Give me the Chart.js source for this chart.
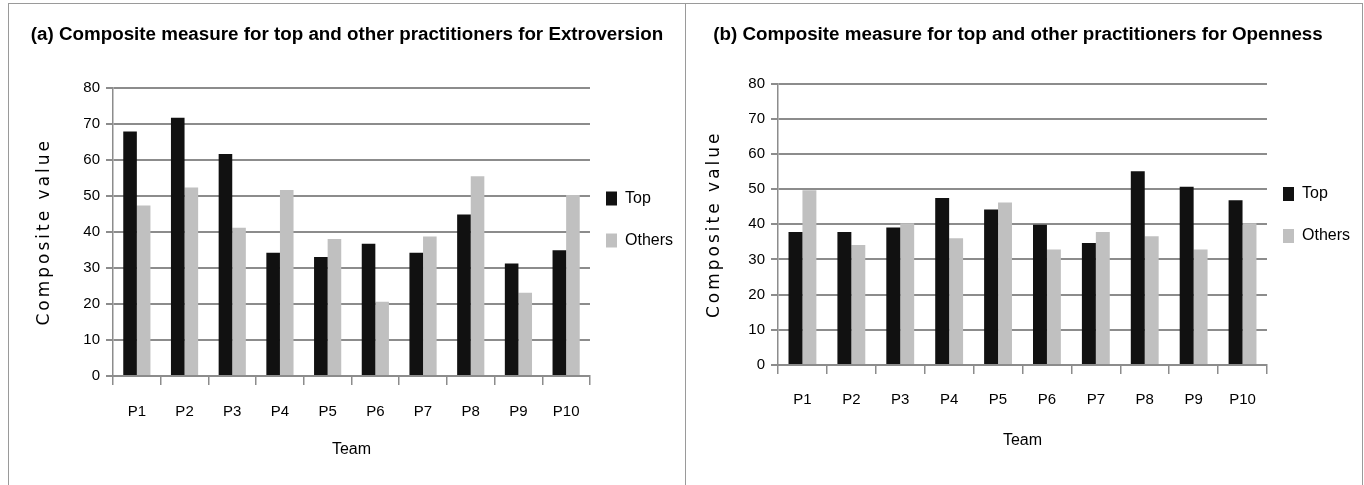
<!DOCTYPE html>
<html>
<head>
<meta charset="utf-8">
<script src="https://cdn.jsdelivr.net/npm/chart.js@4.4.1/dist/chart.umd.min.js"></script>
<style>
    body { margin: 0; background: #fff; width: 1364px; height: 485px; overflow: hidden; position: relative; }
    .pannello { position: absolute; top: 3px; height: 482px; border: 1px solid #9a9a9a; border-bottom: none; box-sizing: border-box; }
    #pannelloA { left: 8px; width: 678px; }
    #pannelloB { left: 685px; width: 678px; }
    canvas { position: absolute; left: 0; top: 0; }
</style>
</head>
<body>
<div class="pannello" id="pannelloA"><canvas id="graficoA" width="676" height="481"></canvas></div>
<div class="pannello" id="pannelloB"><canvas id="graficoB" width="676" height="481"></canvas></div>
<script>
var teams = ["P1", "P2", "P3", "P4", "P5", "P6", "P7", "P8", "P9", "P10"];
var seriesNames = ["Top", "Others"];
var yTicks = [0, 10, 20, 30, 40, 50, 60, 70, 80];

// (a) Extroversion
var extroTop = [67.8, 71.6, 61.6, 34.2, 33.0, 36.7, 34.2, 44.8, 31.2, 34.9];
var extroOthers = [47.3, 52.3, 41.1, 51.6, 38.0, 20.6, 38.7, 55.4, 23.1, 50.2];

// (b) Openness
var openTop = [37.8, 37.8, 39.1, 47.5, 44.2, 39.9, 34.7, 55.1, 50.7, 46.8];
var openOthers = [49.7, 34.1, 40.3, 36.0, 46.2, 32.8, 37.8, 36.6, 32.8, 40.3];

var titleA = "(a) Composite measure for top and other practitioners for Extroversion";
var titleB = "(b) Composite measure for top and other practitioners for Openness";

var fontBase = "'Liberation Sans', Arial, sans-serif";

// sposta la legenda dopo il layout (il padding della legenda vale sia in orizzontale che in verticale)
var spostaLegenda = {
    id: "spostaLegenda",
    afterLayout: function (chart, args, opts) {
        var leg = chart.legend;
        leg.left += opts.dx;
        leg.right += opts.dx;
        leg.top += opts.dy;
        leg.bottom += opts.dy;
    }
};

// titolo dell'asse y con le lettere spaziate come nell'originale
var spaziaTitoloY = {
    id: "spaziaTitoloY",
    afterLayout: function (chart, args, opts) {
        var scala = chart.scales.y;
        if (scala._spaziato) return;
        var drawTitleOrig = scala.drawTitle;
        scala.drawTitle = function () {
            chart.ctx.save();
            chart.ctx.letterSpacing = opts.spacing;
            drawTitleOrig.apply(this, arguments);
            chart.ctx.restore();
        };
        scala._spaziato = true;
    }
};

function creaGrafico(idCanvas, titolo, valoriTop, valoriOthers, pad) {
    var ctx = document.getElementById(idCanvas);
    return new Chart(ctx, {
        type: "bar",
        data: {
            labels: teams,
            datasets: [
                { label: seriesNames[0], data: valoriTop, backgroundColor: "#111111", borderWidth: 0 },
                { label: seriesNames[1], data: valoriOthers, backgroundColor: "#c0c0c0", borderWidth: 0 }
            ]
        },
        plugins: [spostaLegenda, spaziaTitoloY],
        options: {
            responsive: false,
            animation: false,
            layout: { padding: { left: pad.left, right: -8, top: 0, bottom: pad.bottom } },
            categoryPercentage: 0.57,
            barPercentage: 1,
            plugins: {
                tooltip: { enabled: false },
                spostaLegenda: { dx: -10, dy: pad.legendDy },
                spaziaTitoloY: { spacing: "3px" },
                title: {
                    display: true,
                    text: titolo,
                    color: "#000",
                    font: { family: fontBase, size: 18.8, weight: "bold" },
                    padding: { top: 20, bottom: pad.titleBottom }
                },
                legend: {
                    position: "right",
                    labels: {
                        color: "#000",
                        font: { family: fontBase, size: 16 },
                        boxWidth: 11,
                        boxHeight: 14,
                        padding: 26
                    }
                }
            },
            scales: {
                x: {
                    grid: { drawOnChartArea: false, drawTicks: true, tickLength: 9, color: "#8c8c8c", lineWidth: 1.5 },
                    border: { color: "#8c8c8c", width: 2 },
                    ticks: { color: "#000", font: { family: fontBase, size: 15 }, padding: pad.xTickPad, maxRotation: 0 },
                    title: { display: true, text: "Team", color: "#000", font: { family: fontBase, size: 16 }, padding: { top: 10, bottom: 0 } },
                    afterFit: function (scale) { scale.height = pad.xHeight; }
                },
                y: {
                    min: 0,
                    max: 80,
                    afterBuildTicks: function (scale) {
                        scale.ticks = yTicks.map(function (v) { return { value: v }; });
                    },
                    grid: { color: "#8c8c8c", lineWidth: 2, tickLength: 7 },
                    border: { color: "#8c8c8c", width: 1.5 },
                    ticks: { color: "#000", font: { family: fontBase, size: 15 }, padding: 6 },
                    title: { display: true, text: "Composite value", color: "#000", font: { family: "'DejaVu Sans', Verdana, sans-serif", size: 17 }, padding: { top: pad.yTitleTop, bottom: 0 } },
                    afterFit: function (scale) { scale.width = pad.yWidth; }
                }
            }
        }
    });
}

creaGrafico("graficoA", titleA, extroTop, extroOthers, {
    left: -8,
    bottom: 26,
    titleBottom: 41,
    xHeight: 83,
    xTickPad: 18,
    yWidth: 112,
    yTitleTop: 33,
    legendDy: -12
});

creaGrafico("graficoB", titleB, openTop, openOthers, {
    left: -20,
    bottom: 35,
    titleBottom: 37,
    xHeight: 85,
    xTickPad: 17,
    yWidth: 112,
    yTitleTop: 38,
    legendDy: -12
});
</script>
</body>
</html>
